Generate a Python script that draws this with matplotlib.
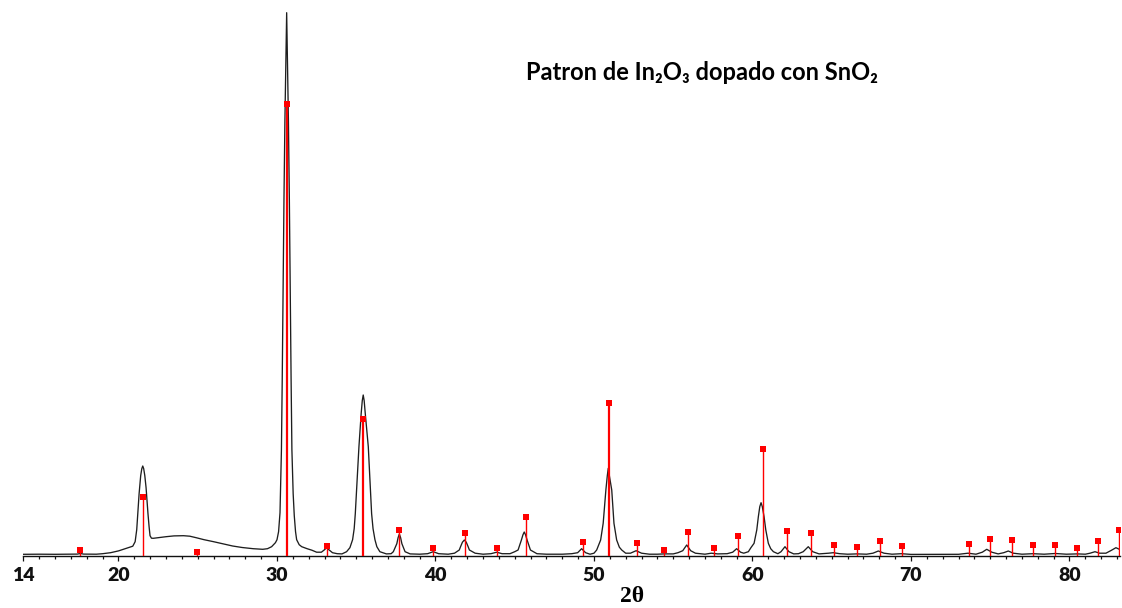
# -*- coding: utf-8 -*-
import numpy as np
import matplotlib
matplotlib.use('Agg')
import matplotlib.pyplot as plt

# Difractograma medido (2theta, intensidad relativa)
dos_theta = [
    14.0, 15.0, 16.0, 17.0, 17.4, 17.6, 17.8, 18.6, 19.0, 19.5,
    20.0, 20.3, 20.6, 20.9, 21.05, 21.15, 21.21, 21.30, 21.40, 21.47,
    21.53, 21.59, 21.66, 21.74, 21.80, 21.86, 21.93, 21.99, 22.08, 22.2,
    22.6, 23.0, 23.5, 24.1, 24.5, 24.9, 25.4, 26.0, 26.6, 27.2,
    27.8, 28.5, 29.1, 29.4, 29.66, 29.9, 30.0, 30.1, 30.19, 30.28,
    30.33, 30.38, 30.44, 30.50, 30.57, 30.61, 30.65, 30.72, 30.78, 30.84,
    30.89, 30.94, 31.02, 31.09, 31.17, 31.24, 31.4, 31.56, 31.9, 32.2,
    32.5, 32.8, 33.0, 33.13, 33.27, 33.5, 33.8, 34.1, 34.39, 34.6,
    34.77, 34.87, 34.94, 35.06, 35.17, 35.31, 35.38, 35.44, 35.50, 35.57,
    35.76, 35.86, 35.97, 36.06, 36.18, 36.3, 36.49, 36.9, 37.2, 37.34,
    37.56, 37.64, 37.72, 37.80, 37.88, 38.08, 38.4, 39.0, 39.5, 39.86,
    40.2, 40.8, 41.2, 41.5, 41.58, 41.7, 41.82, 41.94, 42.06, 42.14,
    42.5, 43.0, 43.5, 43.86, 44.2, 44.7, 45.0, 45.21, 45.42, 45.52,
    45.60, 45.68, 45.78, 45.99, 46.4, 47.0, 48.0, 48.6, 48.97, 49.22,
    49.47, 49.75, 50.0, 50.17, 50.42, 50.58, 50.75, 50.84, 50.90, 50.97,
    51.12, 51.26, 51.43, 51.6, 51.75, 52.0, 52.3, 52.66, 53.0, 53.5,
    54.0, 54.4, 55.0, 55.3, 55.6, 55.85, 56.1, 56.4, 57.0, 57.4,
    57.8, 58.4, 58.75, 59.0, 59.25, 59.45, 59.74, 59.9, 60.1, 60.27,
    60.37, 60.46, 60.54, 60.62, 60.73, 60.84, 61.0, 61.15, 61.32, 61.6,
    61.8, 62.05, 62.3, 62.6, 62.9, 63.2, 63.52, 63.8, 64.2, 64.8,
    65.1, 65.5, 66.0, 66.6, 67.2, 67.6, 67.94, 68.3, 68.8, 69.4,
    70.0, 71.0, 72.0, 73.0, 73.6, 74.1, 74.5, 74.78, 75.1, 75.5,
    75.85, 76.14, 76.45, 77.0, 77.7, 78.4, 79.1, 79.8, 80.5, 81.0,
    81.3, 81.61, 81.9, 82.3, 82.6, 82.93, 83.2,
]
intensidad = [
    1.4, 1.5, 1.4, 1.5, 1.6, 2.2, 1.6, 1.5, 2.0, 3.0,
    4.8, 6.4, 8.0, 9.5, 14, 26, 40, 62, 80, 87,
    89.7, 87, 80, 68, 55, 42, 29, 20, 17.5, 17.4,
    18.2, 19.0, 19.8, 20.0, 19.5, 18, 16, 14, 11.8, 9.7,
    8.2, 7.0, 6.4, 7.0, 9, 13, 16, 24, 43, 106,
    176, 256, 356, 436, 506, 543, 506, 436, 356, 256,
    176, 106, 62, 40, 24, 16, 11, 9, 7, 5.5,
    3.5, 3.5, 6, 8, 6, 3, 2, 1.8, 4, 8,
    16, 27, 42, 76, 109, 142, 155, 160.7, 155, 142,
    109, 76, 42, 27, 16, 9, 4, 1.8, 2, 4,
    12, 18, 21.7, 18, 12, 4, 1.8, 1.5, 2, 4,
    2, 1.5, 2.5, 5.7, 9, 13.5, 15.7, 13.5, 9, 5.7,
    2.5, 1.5, 2, 3.5, 2, 2, 4, 5.7, 15.7, 21,
    23.7, 21, 15.7, 5.7, 2, 1.5, 1.5, 2, 3, 7,
    3, 1.5, 2.5, 5.7, 15.7, 32.4, 65.7, 80, 87.4, 80,
    65.7, 32.4, 15.7, 8.5, 5.7, 2.5, 2.5, 5, 2.5, 1.5,
    1.5, 1.8, 1.8, 3, 5, 10.7, 5, 2.5, 1.5, 2.5,
    1.8, 2, 3.5, 7, 3.5, 2.5, 4, 8, 12.4, 25.7,
    39, 49, 53, 49, 39, 25.7, 12.4, 7, 4, 2,
    4, 9, 4, 1.8, 2, 4, 9, 4, 1.8, 2.5,
    3, 2, 1.5, 1.8, 1.5, 2.5, 4.7, 2.5, 1.5, 2,
    1.3, 1.3, 1.4, 1.4, 2.5, 1.5, 3.5, 6.4, 3.5, 1.8,
    3, 4.7, 2.5, 1.5, 2, 1.5, 2.2, 1.5, 1.8, 1.5,
    2.5, 4, 2.5, 2.5, 5, 8, 6,
]

# Reflexiones del patron de referencia
pos_patron = [17.6, 21.57, 24.95, 30.61, 33.13, 35.44, 37.70, 39.86, 41.86,
              43.86, 45.70, 49.30, 50.96, 52.70, 54.40, 55.95, 57.57, 59.10,
              60.64, 62.16, 63.67, 65.16, 66.60, 68.03, 69.46, 73.64, 74.98,
              76.40, 77.70, 79.10, 80.45, 81.78, 83.14]
int_patron = [6, 59, 4, 452, 10, 137, 26, 8, 23,
              8, 39, 14, 153, 13, 6, 24, 8, 20,
              107, 25, 23, 11, 9, 15, 10, 12, 17,
              16, 11, 11, 8, 15, 26]

titulo = 'Patron de In\u2082O\u2083 dopado con SnO\u2082'
etiquetas_x = [14, 20, 30, 40, 50, 60, 70, 80]

fuente = ['Lato', 'DejaVu Sans']

fig = plt.figure(figsize=(11.22, 6.08), dpi=100)
ax = fig.add_axes([23.4 / 1122, 52.3 / 608, 1096.8 / 1122, 555.7 / 608])

# Curva experimental
ax.plot(dos_theta, intensidad, color='#1e1e1e', lw=0.95, zorder=2)

# Lineas del patron: las mas intensas se dibujan mas gruesas
pos = np.array(pos_patron)
inten = np.array(int_patron)
fuertes = inten > 120
ax.vlines(pos[~fuertes], 0, inten[~fuertes], color='#ff0000', lw=1.0, zorder=3)
ax.vlines(pos[fuertes], 0, inten[fuertes], color='#ff0000', lw=1.6, zorder=3)
ax.plot(pos, inten, 's', color='#ff0000', ms=3.8, mew=0, zorder=4)

ax.set_xlim(14, 83.2)
ax.set_ylim(0, 555.7)

for lado in ['left', 'right', 'top']:
    ax.spines[lado].set_visible(False)
ax.spines['bottom'].set_linewidth(1.0)
ax.spines['bottom'].set_color('#111111')

ax.set_yticks([])
ax.set_xticks(etiquetas_x)
ax.set_xticks(np.arange(14, 84, 1), minor=True)
ax.set_xticklabels([str(v) for v in etiquetas_x], family=fuente,
                   fontweight='heavy', fontsize=14)
ax.tick_params(axis='x', which='major', direction='out', length=3.6,
               width=0.9, pad=4.5, colors='#111111')
ax.tick_params(axis='x', which='minor', direction='out', length=2.4,
               width=0.9, colors='#111111')

fig.text(632 / 1122, 1 - 597 / 608, '2\u03b8', ha='center', va='center',
         family=['Liberation Serif', 'DejaVu Serif'], fontweight='bold',
         fontsize=17)
fig.text(702 / 1122, 1 - 73 / 608, titulo, ha='center', va='center',
         family=fuente, fontweight='bold', fontsize=17)

fig.savefig('out.png', dpi=100)
